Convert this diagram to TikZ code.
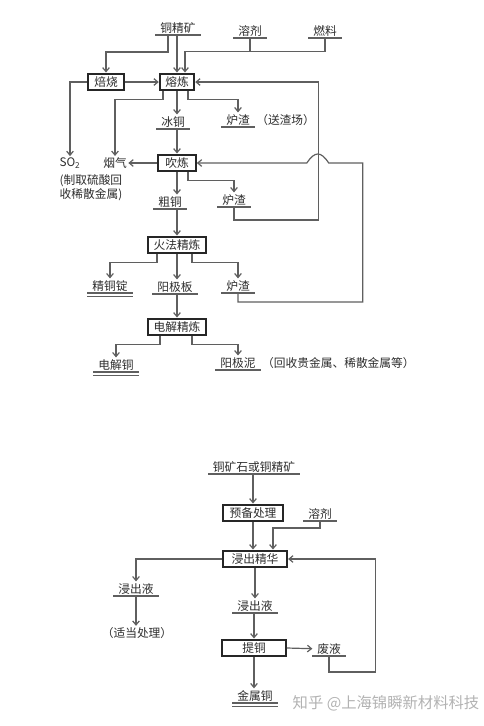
\documentclass[tikz,border=0pt]{standalone}
\usepackage{fontspec}
\setmainfont{Noto Sans CJK SC}
\usepackage{tikz}
\usetikzlibrary{positioning,calc,arrows.meta}
\usepackage{xcolor}
\definecolor{ln}{RGB}{95,95,95}
\definecolor{tx}{RGB}{45,45,45}

\tikzset{
  arr/.style={draw=ln, line width=0.9pt, -{Straight Barb[length=3pt,width=5pt]}},
  ln/.style={draw=ln, line width=0.9pt},
  txt/.style={text=tx, inner sep=1pt, font=\fontsize{8.8}{10.5}\selectfont},
  proc/.style={txt, draw=black!85, line width=1.7pt, fill=white, minimum height=12.5pt, inner xsep=4pt},
  mat/.style={txt, anchor=south, inner xsep=3.5pt, inner ysep=1.2pt,
    append after command={(\tikzlastnode.south west) edge[ln] (\tikzlastnode.south east)}},
  matend/.style={mat,
    append after command={([yshift=-2.6pt]\tikzlastnode.south west) edge[ln] ([yshift=-2.6pt]\tikzlastnode.south east)}}
}

\begin{document}
\begin{tikzpicture}[x=0.75pt,y=-0.75pt]
      \useasboundingbox (0,0) rectangle (483,726);

      \node[mat] (ore) at (178,35) {铜精矿};
      \node[mat] (flux) at (250,38) {溶剂};
      \node[mat] (fuel) at (325,38) {燃料};
      \node[proc, minimum width=27pt] (roast) at (106,82) {焙烧};
      \node[proc, minimum width=25pt] (smelt) at (177,82) {熔炼};
      \node[mat] (matte) at (173,129) {冰铜};
      \node[mat] (slag1) at (238,127) {炉渣};
      \node[txt, anchor=base west] (slag1note) at (slag1.base east) {（送渣场）};
      \node[txt] (so2) at (70,163) {SO\textsubscript{2}};
      \node[txt, align=left, anchor=north west] (so2note) at (58,173) {(制取硫酸回\\收稀散金属)};
      \node[txt] (fume) at (115,163) {烟气};
      \node[proc, minimum width=28pt] (convert) at (177,163) {吹炼};
      \node[mat] (blister) at (170,209) {粗铜};
      \node[mat] (slag2) at (234,207) {炉渣};
      \node[proc, minimum width=43.5pt] (fire) at (177,245) {火法精炼};
      \node[matend] (ingot) at (110,293) {精铜锭};
      \node[mat] (anode) at (175,294) {阳极板};
      \node[mat] (slag3) at (238,293) {炉渣};
      \node[proc, minimum width=43.5pt] (electro) at (177,327) {电解精炼};
      \node[matend] (cathode) at (116,372) {电解铜};
      \node[mat] (slime) at (238,370) {阳极泥};
      \node[txt, anchor=base west] (slimenote) at (slime.base east) {（回收贵金属、稀散金属等）};

      \coordinate (feedj) at ($(smelt.north)+(8,-21)$);
      \coordinate (hop) at ($(convert.east)+(121,0)$);

      \draw[arr] ($(ore.south)+(-10,0)$) -- ++(0,17) -| (roast.north);
      \draw[arr] (ore.south -| smelt.north) -- (smelt.north);
      \draw[ln] (flux.south) -- (flux.south |- feedj);
      \draw[arr] (fuel.south) |- (feedj) -- ($(smelt.north)+(8,0)$);
      \draw[arr] (roast.east) -- (smelt.west);
      \draw[arr] (roast.west) -| (so2.north);
      \draw[arr] ($(smelt.south)+(-14,0)$) -- ++(0,8) -| (fume.north);
      \draw[arr] (smelt.south) -- (smelt.south |- matte.north);
      \draw[arr] ($(smelt.south)+(11,0)$) -- ++(0,8) -| (slag1.north);
      \draw[arr] (matte.south -| convert.north) -- (convert.north);
      \draw[arr] (convert.west) -- (fume.east);
      \draw[arr] (convert.south) -- (convert.south |- blister.north);
      \draw[arr] ($(convert.south)+(11,0)$) -- ++(0,8) -| (slag2.north);
      \draw[arr] (slag2.south) -- ++(0,13) -| ($(smelt.east)+(123,0)$) -- (smelt.east);
      \draw[arr] (blister.south -| fire.north) -- (fire.north);
      \draw[arr] ($(fire.south)+(-20,0)$) -- ++(0,8) -| (ingot.north);
      \draw[arr] (fire.south) -- (fire.south |- anode.north);
      \draw[arr] ($(fire.south)+(15,0)$) -- ++(0,8) -| (slag3.north);
      \draw[arr] (slag3.south) -- ++(0,9) -| ($(convert.east)+(166,0)$)
            -- ($(hop)+(11,0)$) .. controls ($(hop)+(3,-12)$) and ($(hop)+(-3,-12)$) .. ($(hop)+(-11,0)$)
            -- (convert.east);
      \draw[arr] (anode.south -| electro.north) -- (electro.north);
      \draw[arr] ($(electro.south)+(-17,0)$) -- ++(0,8) -| (cathode.north);
      \draw[arr] ($(electro.south)+(15,0)$) -- ++(0,8) -| (slime.north);

      \node[mat] (ore2) at (254,474) {铜矿石或铜精矿};
      \node[proc, minimum width=45.5pt] (prep) at (253,513) {预备处理};
      \node[mat] (flux2) at (320,521) {溶剂};
      \node[proc, minimum width=48pt] (leach) at (255,559) {浸出精华};
      \node[mat] (liq1) at (136,596) {浸出液};
      \node[txt] (treat) at (137,633) {（适当处理）};
      \node[mat] (liq2) at (255,613) {浸出液};
      \node[proc, minimum width=47.5pt] (extract) at (254,648) {提铜};
      \node[mat] (waste) at (329,656) {废液};
      \node[matend] (cu) at (255,703) {金属铜};
      \node[txt, text=black!30, font=\fontsize{11.5}{13}\selectfont] (mark) at (386,703) {知乎 @上海锦瞬新材料科技};

      \draw[arr] (ore2.south -| prep.north) -- (prep.north);
      \draw[arr] (prep.south) -- (prep.south |- leach.north);
      \draw[arr] (flux2.south) -- ++(0,7) -| ($(leach.north)+(18,0)$);
      \draw[arr] (leach.west) -| (liq1.north);
      \draw[arr] (liq1.south) -- (liq1.south |- treat.north);
      \draw[arr] (leach.south) -- (leach.south |- liq2.north);
      \draw[arr] (liq2.south -| extract.north) -- (extract.north);
      \draw[arr] (extract.east) -- (waste.west);
      \draw[arr] (waste.south) -- ++(0,16) -| ($(leach.east)+(87,0)$) -- (leach.east);
      \draw[arr] (extract.south) -- (extract.south |- cu.north);

    \end{tikzpicture}
\end{document}
